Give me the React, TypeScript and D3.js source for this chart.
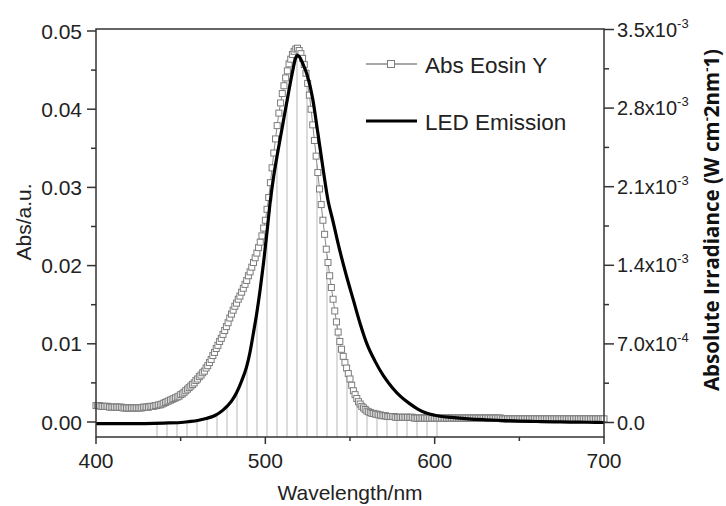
import React from 'react';
import * as d3 from 'd3';

const W = 726;
const H = 506;

// Absorbance of Eosin Y (left axis, a.u.), sampled every 1 nm from 400 to 700 nm
const absWavelengths = d3.range(400, 701, 1);
const absValues = [
  0.0021, 0.0021, 0.0021, 0.0020, 0.0020, 0.0020, 0.0020, 0.0020, 0.0019, 0.0019,
  0.0019, 0.0019, 0.0019, 0.0019, 0.0019, 0.0019, 0.0018, 0.0018, 0.0018, 0.0018,
  0.0018, 0.0018, 0.0018, 0.0018, 0.0018, 0.0018, 0.0018, 0.0018, 0.0019, 0.0019,
  0.0019, 0.0019, 0.0020, 0.0020, 0.0020, 0.0021, 0.0021, 0.0022, 0.0022, 0.0023,
  0.0024, 0.0025, 0.0026, 0.0027, 0.0028, 0.0029, 0.0030, 0.0031, 0.0032, 0.0033,
  0.0035, 0.0036, 0.0038, 0.0040, 0.0042, 0.0044, 0.0046, 0.0048, 0.0050, 0.0053,
  0.0055, 0.0058, 0.0060, 0.0063, 0.0065, 0.0069, 0.0072, 0.0076, 0.0080, 0.0085,
  0.0089, 0.0094, 0.0098, 0.0103, 0.0107, 0.0112, 0.0117, 0.0122, 0.0127, 0.0133,
  0.0138, 0.0143, 0.0148, 0.0152, 0.0157, 0.0161, 0.0166, 0.0171, 0.0176, 0.0181,
  0.0187, 0.0192, 0.0198, 0.0204, 0.0210, 0.0216, 0.0223, 0.0230, 0.0238, 0.0248,
  0.0258, 0.0272, 0.0287, 0.0306, 0.0325, 0.0344, 0.0362, 0.0379, 0.0395, 0.0408,
  0.0420, 0.0430, 0.0440, 0.0449, 0.0458, 0.0464, 0.0470, 0.0474, 0.0477, 0.0478,
  0.0475, 0.0471, 0.0465, 0.0457, 0.0446, 0.0433, 0.0418, 0.0400, 0.0380, 0.0360,
  0.0340, 0.0319, 0.0298, 0.0278, 0.0258, 0.0240, 0.0221, 0.0204, 0.0187, 0.0172,
  0.0157, 0.0142, 0.0128, 0.0115, 0.0103, 0.0093, 0.0084, 0.0076, 0.0069, 0.0062,
  0.0055, 0.0047, 0.0040, 0.0035, 0.0030, 0.0026, 0.0023, 0.0020, 0.0018, 0.0016,
  0.0014, 0.0013, 0.0012, 0.0011, 0.0011, 0.0010, 0.0010, 0.0009, 0.0009, 0.0008,
  0.0008, 0.0008, 0.0007, 0.0007, 0.0007, 0.0007, 0.0007, 0.0006, 0.0006, 0.0006,
  0.0006, 0.0006, 0.0006, 0.0006, 0.0006, 0.0006, 0.0006, 0.0006, 0.0005, 0.0005,
  0.0005, 0.0005, 0.0005, 0.0005, 0.0005, 0.0005, 0.0005, 0.0005, 0.0005, 0.0005,
  0.0005, 0.0005, 0.0005, 0.0005, 0.0005, 0.0005, 0.0005, 0.0005, 0.0005, 0.0005,
  0.0005, 0.0005, 0.0005, 0.0005, 0.0005, 0.0005, 0.0005, 0.0005, 0.0005, 0.0005,
  0.0005, 0.0005, 0.0005, 0.0005, 0.0005, 0.0005, 0.0005, 0.0005, 0.0005, 0.0005,
  0.0005, 0.0005, 0.0005, 0.0005, 0.0005, 0.0005, 0.0005, 0.0005, 0.0005, 0.0005,
  0.0004, 0.0004, 0.0004, 0.0004, 0.0004, 0.0004, 0.0004, 0.0004, 0.0004, 0.0004,
  0.0004, 0.0004, 0.0004, 0.0004, 0.0004, 0.0004, 0.0004, 0.0004, 0.0004, 0.0004,
  0.0004, 0.0004, 0.0004, 0.0004, 0.0004, 0.0004, 0.0004, 0.0004, 0.0004, 0.0004,
  0.0004, 0.0004, 0.0004, 0.0004, 0.0004, 0.0004, 0.0004, 0.0004, 0.0004, 0.0004,
  0.0004, 0.0004, 0.0004, 0.0004, 0.0004, 0.0004, 0.0004, 0.0004, 0.0004, 0.0004,
  0.0004, 0.0004, 0.0004, 0.0004, 0.0004, 0.0004, 0.0004, 0.0004, 0.0004, 0.0004,
  0.0004,
];

// LED emission (right axis), in units of 1e-3 W cm^-2 nm^-1
const ledWavelengths = [
  400, 420, 440, 450, 455, 460, 465, 470, 475, 480, 483, 486, 489, 491, 493, 495, 497, 499,
  501, 503, 505, 507, 510, 513, 516, 518, 519, 520, 522, 525, 528, 531, 534, 537, 540, 544,
  548, 552, 556, 560, 565, 570, 575, 580, 585, 590, 595, 600, 610, 620, 630, 640, 650, 660,
  670, 680, 690, 700,
];
const ledValues = [
  -0.01, -0.01, -0.005, 0.0, 0.008, 0.018, 0.035, 0.06, 0.11, 0.19, 0.265, 0.37, 0.5, 0.63,
  0.8, 0.98, 1.19, 1.43, 1.7, 1.98, 2.2, 2.38, 2.63, 2.88, 3.12, 3.25, 3.27, 3.26, 3.2, 3.08,
  2.88, 2.58, 2.27, 1.98, 1.79, 1.53, 1.3, 1.09, 0.88, 0.7, 0.54, 0.41, 0.31, 0.23, 0.17,
  0.12, 0.085, 0.065, 0.045, 0.032, 0.024, 0.018, 0.013, 0.009, 0.006, 0.004, 0.002, 0.0,
];

const xTicks = [400, 500, 600, 700];
const xMinorTicks = [450, 550, 650];
const leftTicks = [0, 0.01, 0.02, 0.03, 0.04, 0.05];
const leftTickLabels = ['0.00', '0.01', '0.02', '0.03', '0.04', '0.05'];
const leftMinorTicks = [0.005, 0.015, 0.025, 0.035, 0.045];
const rightTicks = [0, 0.7, 1.4, 2.1, 2.8, 3.5];
const rightTickMantissa = ['0.0', '7.0x10', '1.4x10', '2.1x10', '2.8x10', '3.5x10'];
const rightTickExponent = ['', '-4', '-3', '-3', '-3', '-3'];
const rightMinorTicks = [0.35, 1.05, 1.75, 2.45, 3.15];
const legendLabels = ['Abs Eosin Y', 'LED Emission'];

const FONT = "'Liberation Sans', Arial, sans-serif";

export default function App() {
  const left = 96, right = 604, top = 29, bottom = 437;
  const x = d3.scaleLinear().domain([400, 700]).range([left, right]);
  const yL = d3.scaleLinear().domain([0, 0.05]).range([422, 31]);
  const yR = d3.scaleLinear().domain([0, 3.5]).range([422.5, 29.5]);

  const absPts = absWavelengths.map((w, i) => [w, absValues[i]] as [number, number]);
  const ledPts = ledWavelengths.map((w, i) => [w, ledValues[i]] as [number, number]);

  const absLine = d3.line<[number, number]>().x(d => x(d[0])).y(d => yL(d[1]));
  const ledLine = d3
    .line<[number, number]>()
    .x(d => x(d[0]))
    .y(d => yR(d[1]))
    .curve(d3.curveMonotoneX);

  const absInterp = d3.scaleLinear().domain(absWavelengths).range(absValues);
  const ledInterp = d3.scaleLinear().domain(ledWavelengths).range(ledValues);

  // hatch of the overlap region (decorative vertical lines)
  const hatchX = d3.range(157, 440, 10);
  const hatch = hatchX.map(px => {
    const nm = x.invert(px);
    const ya = yL(absInterp(nm));
    const yl = yR(ledInterp(nm));
    return { px, top: Math.max(ya, yl) };
  });

  const sq = 6;

  return (
    <svg
      width={W}
      height={H}
      viewBox={`0 0 ${W} ${H}`}
      style={{ position: 'absolute', left: 0, top: 0, background: '#fff' }}
      fontFamily={FONT}
    >
      <rect x={0} y={0} width={W} height={H} fill="#fff" />

      {/* hatch */}
      <g stroke="#c4c4c4" strokeWidth={1.2}>
        {hatch.map((h, i) => (
          <line key={i} x1={h.px} x2={h.px} y1={h.top} y2={bottom} />
        ))}
      </g>

      {/* Abs line + squares */}
      <path d={absLine(absPts) || ''} fill="none" stroke="#8a8a8a" strokeWidth={1} />
      <g fill="#fff" stroke="#7c7c7c" strokeWidth={1}>
        {absPts.map((d, i) => (
          <rect key={i} x={x(d[0]) - sq / 2} y={yL(d[1]) - sq / 2} width={sq} height={sq} />
        ))}
      </g>

      {/* LED */}
      <path d={ledLine(ledPts) || ''} fill="none" stroke="#000" strokeWidth={3.2} strokeLinejoin="round" />

      {/* frame */}
      <rect x={left} y={top} width={right - left} height={bottom - top} fill="none" stroke="#333" strokeWidth={1.5} />

      {/* bottom axis */}
      <g stroke="#333" strokeWidth={1.5}>
        {xTicks.map(t => (
          <line key={t} x1={x(t)} x2={x(t)} y1={bottom} y2={bottom + 7} />
        ))}
        {xMinorTicks.map(t => (
          <line key={t} x1={x(t)} x2={x(t)} y1={bottom} y2={bottom + 4} />
        ))}
      </g>
      <g fontSize={21} fill="#222" textAnchor="middle">
        {xTicks.map(t => (
          <text key={t} x={x(t)} y={468}>{t}</text>
        ))}
      </g>
      <text x={350} y={500} fontSize={21} fill="#222" textAnchor="middle">Wavelength/nm</text>

      {/* left axis */}
      <g stroke="#333" strokeWidth={1.5}>
        {leftTicks.map(t => (
          <line key={t} x1={left - 9} x2={left} y1={yL(t)} y2={yL(t)} />
        ))}
        {leftMinorTicks.map(t => (
          <line key={t} x1={left - 5} x2={left} y1={yL(t)} y2={yL(t)} />
        ))}
      </g>
      <g fontSize={21} fill="#222" textAnchor="end">
        {leftTicks.map((t, i) => (
          <text key={t} x={82} y={yL(t) + 7.5}>{leftTickLabels[i]}</text>
        ))}
      </g>
      <text
        transform={`translate(31,${222}) rotate(-90)`}
        fontSize={21}
        fill="#222"
        textAnchor="middle"
      >
        Abs/a.u.
      </text>

      {/* right axis */}
      <g stroke="#333" strokeWidth={1.5}>
        {rightTicks.map(t => (
          <line key={t} x1={right} x2={right + 10} y1={yR(t)} y2={yR(t)} />
        ))}
        {rightMinorTicks.map(t => (
          <line key={t} x1={right} x2={right + 5} y1={yR(t)} y2={yR(t)} />
        ))}
      </g>
      <g fontSize={20} fill="#222">
        {rightTicks.map((t, i) => (
          <text key={t} x={617} y={yR(t) + 7}>
            {rightTickMantissa[i]}
            {rightTickExponent[i] && (
              <tspan fontSize={13} dy={-9}>{rightTickExponent[i]}</tspan>
            )}
          </text>
        ))}
      </g>
      <text
        transform={`translate(719,${220}) rotate(-90)`}
        fontSize={20.5}
        fontWeight="bold"
        fontFamily="'Open Sans', 'DejaVu Sans', sans-serif"
        fill="#111"
        textAnchor="middle"
      >
        Absolute Irradiance (W cm<tspan fontSize={13} dy={-8}>-</tspan>
        <tspan dy={8}>2nm</tspan>
        <tspan fontSize={13} dy={-8}>-</tspan>
        <tspan dy={8}>1)</tspan>
      </text>

      {/* legend */}
      <line x1={366} x2={417} y1={64} y2={64} stroke="#8a8a8a" strokeWidth={1.5} />
      <rect x={391 - 3.5} y={64 - 3.5} width={7} height={7} fill="#fff" stroke="#7c7c7c" strokeWidth={1} />
      <text x={425} y={73} fontSize={22.5} fill="#222">{legendLabels[0]}</text>
      <line x1={366} x2={417} y1={121} y2={121} stroke="#000" strokeWidth={3.2} />
      <text x={425} y={130} fontSize={22.5} fill="#222">{legendLabels[1]}</text>
    </svg>
  );
}
